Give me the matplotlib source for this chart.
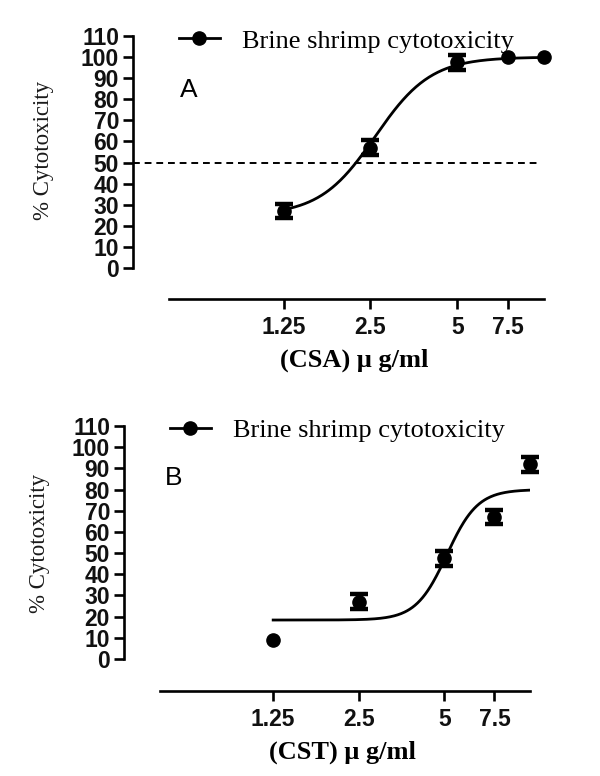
import numpy as np
import matplotlib
matplotlib.use("Agg")
import matplotlib.pyplot as plt
from matplotlib.lines import Line2D
from matplotlib.ticker import FixedLocator, FixedFormatter, NullLocator

# concentrations (ug/ml)
conc = [1.25, 2.5, 5, 7.5, 10]
tick_vals = [1.25, 2.5, 5, 7.5]
tick_labels = ["1.25", "2.5", "5", "7.5"]

# panel A - CSA
csa_mean = [27, 57, 97.5, 100, 100]
csa_err = [3.5, 3.5, 3.5, 0, 0]
# fitted sigmoid (bottom, top, EC50, hill slope)
csa_fit = [25, 100, 2.6, 4.5]

# panel B - CST
cst_mean = [9, 27, 47.5, 67, 92]
cst_err = [0, 3.5, 3.5, 3.5, 3.5]
cst_fit = [18.4, 80, 5.1, 8]

legend_text = "Brine shrimp cytotoxicity"
yticks = list(range(0, 111, 10))

W, H = 600, 776
fig = plt.figure(figsize=(6, 7.76), dpi=100)

sans = "Liberation Sans"
serif = "Liberation Serif"


def hill(x, p):
    b, t, ec50, h = p
    return b + (t - b) / (1 + 10 ** ((np.log10(ec50) - np.log10(x)) * h))


def panel(box, mean, err, fit, letter, letter_xy, xlabel, xlabel_xy, ylabel_xy,
          legend_xy, yout, xout, dashed):
    l, t, r, b = box
    ax = fig.add_axes([l / W, 1 - b / H, (r - l) / W, (b - t) / H])
    ax.set_xscale("log")
    ax.set_xlim(0.5, 10)
    ax.set_ylim(0, 110)

    xs = np.logspace(np.log10(1.25), np.log10(10), 300)
    ax.plot(xs, hill(xs, fit), color="black", lw=2, zorder=3)
    # error bars only where there is a visible error
    ex = [c for c, e in zip(conc, err) if e > 0]
    ey = [m for m, e in zip(mean, err) if e > 0]
    ee = [e for e in err if e > 0]
    ax.errorbar(ex, ey, yerr=ee, fmt="none", ecolor="black",
                elinewidth=2.2, capsize=6.5, capthick=3.2, zorder=4, clip_on=False)
    ax.plot(conc, mean, "o", color="black", ms=9.5, zorder=5, clip_on=False)
    if dashed:
        ax.axhline(50, xmin=-(l - yout) / (r - l), xmax=0.989, color="black",
                   lw=1.4, ls=(0, (3.5, 2.5)), clip_on=False, zorder=2)

    for s in ["top", "right"]:
        ax.spines[s].set_visible(False)
    ax.spines["left"].set_position(("outward", (l - yout) * 0.72))
    ax.spines["bottom"].set_position(("outward", (xout - b) * 0.72))
    ax.spines["left"].set_bounds(0, 110)
    ax.spines["left"].set_linewidth(1.9)
    ax.spines["bottom"].set_linewidth(1.9)

    ax.xaxis.set_major_locator(FixedLocator(tick_vals))
    ax.xaxis.set_major_formatter(FixedFormatter(tick_labels))
    ax.xaxis.set_minor_locator(NullLocator())
    ax.set_yticks(yticks)
    ax.tick_params(axis="both", width=1.9, length=7, colors="black")
    ax.tick_params(axis="y", pad=3)
    ax.tick_params(axis="x", pad=5.5)
    for lab in ax.get_xticklabels() + ax.get_yticklabels():
        lab.set_fontfamily(sans)
        lab.set_fontweight("bold")
        lab.set_fontsize(16.5)
        lab.set_color("#111111")

    fig.text(letter_xy[0] / W, 1 - letter_xy[1] / H, letter, family=sans,
             fontsize=19, ha="left", va="center")
    fig.text(xlabel_xy[0] / W, 1 - xlabel_xy[1] / H, xlabel, family=serif,
             fontweight="bold", fontsize=19, ha="center", va="center")
    fig.text(ylabel_xy[0] / W, 1 - ylabel_xy[1] / H, "% Cytotoxicity",
             family=serif, fontsize=16.5, rotation=90, ha="center", va="center",
             color="#1a1a1a")

    h = Line2D([], [], color="black", lw=2, marker="o", ms=9.5)
    ax.legend(handles=[h], labels=[legend_text], loc="center left",
              bbox_to_anchor=(legend_xy[0] / W, 1 - legend_xy[1] / H),
              bbox_transform=fig.transFigure, frameon=False, borderpad=0,
              borderaxespad=0, handlelength=1.55, handletextpad=0.85,
              prop={"family": serif, "size": 19})
    return ax


panel((169, 36, 544, 268), csa_mean, csa_err, csa_fit, "A", (180, 90),
      "(CSA) \u03bc g/ml", (354, 360), (43, 150), (179, 41), 133, 299, True)
panel((160, 426, 530, 659), cst_mean, cst_err, cst_fit, "B", (165, 478),
      "(CST) \u03bc g/ml", (342, 752), (40, 543), (170, 430), 124, 691, False)

fig.savefig("out.png", dpi=100)
